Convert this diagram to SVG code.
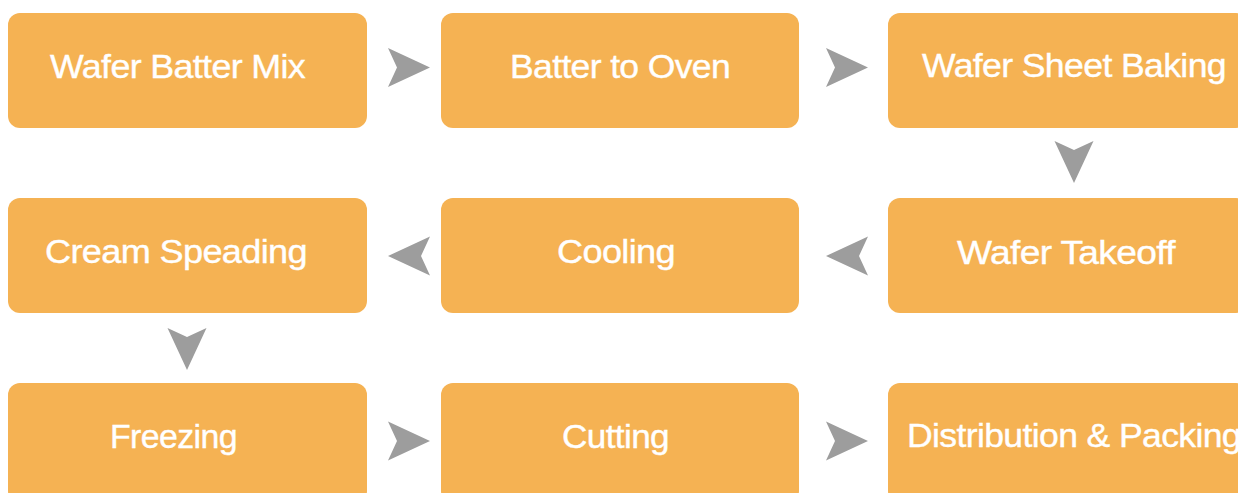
<svg xmlns="http://www.w3.org/2000/svg" width="1238" height="493" viewBox="0 0 1238 493">
<style>
.box{fill:#F5B253;}
.lbl{fill:#FFFFFF;stroke:#FFFFFF;stroke-width:0.4;font-family:"Liberation Sans",Arial,sans-serif;font-size:34px;letter-spacing:-0.6px;}
.arr{fill:#9D9D9D;}
</style>
<defs>
<path id="ar" d="M-21,-19.5 L21,0 L-21,19.5 L-12,0 Z"/>
</defs>
<rect width="1238" height="493" fill="#FFFFFF"/>
<g id="n1"><rect class="box" x="8" y="13" width="359" height="115" rx="12"/><text class="lbl" x="50" y="78" textLength="255" lengthAdjust="spacingAndGlyphs">Wafer Batter Mix</text></g>
<g id="n2"><rect class="box" x="441" y="13" width="358" height="115" rx="12"/><text class="lbl" x="510" y="78" textLength="220" lengthAdjust="spacingAndGlyphs">Batter to Oven</text></g>
<g id="n3"><rect class="box" x="888" y="13" width="360" height="115" rx="12"/><text class="lbl" x="922" y="77" textLength="304" lengthAdjust="spacingAndGlyphs">Wafer Sheet Baking</text></g>
<g id="n4"><rect class="box" x="888" y="198" width="360" height="115" rx="12"/><text class="lbl" x="957" y="264" textLength="218" lengthAdjust="spacingAndGlyphs">Wafer Takeoff</text></g>
<g id="n5"><rect class="box" x="441" y="198" width="358" height="115" rx="12"/><text class="lbl" x="557" y="263" textLength="118" lengthAdjust="spacingAndGlyphs">Cooling</text></g>
<g id="n6"><rect class="box" x="8" y="198" width="359" height="115" rx="12"/><text class="lbl" x="45" y="263" textLength="262" lengthAdjust="spacingAndGlyphs">Cream Speading</text></g>
<g id="n7"><rect class="box" x="8" y="383" width="359" height="120" rx="12"/><text class="lbl" x="110" y="448" textLength="127" lengthAdjust="spacingAndGlyphs">Freezing</text></g>
<g id="n8"><rect class="box" x="441" y="383" width="358" height="120" rx="12"/><text class="lbl" x="562" y="448" textLength="107" lengthAdjust="spacingAndGlyphs">Cutting</text></g>
<g id="n9"><rect class="box" x="888" y="383" width="360" height="120" rx="12"/><text class="lbl" x="907" y="447" textLength="334" lengthAdjust="spacingAndGlyphs">Distribution &amp; Packing</text></g>
<g id="connectors">
<use href="#ar" class="arr" transform="translate(409,67.5)"/>
<use href="#ar" class="arr" transform="translate(847,67.5)"/>
<use href="#ar" class="arr" transform="translate(1074,162) rotate(90)"/>
<use href="#ar" class="arr" transform="translate(847,256) rotate(180)"/>
<use href="#ar" class="arr" transform="translate(409,256) rotate(180)"/>
<use href="#ar" class="arr" transform="translate(187,349) rotate(90)"/>
<use href="#ar" class="arr" transform="translate(409,441)"/>
<use href="#ar" class="arr" transform="translate(847,441)"/>
</g>
</svg>
